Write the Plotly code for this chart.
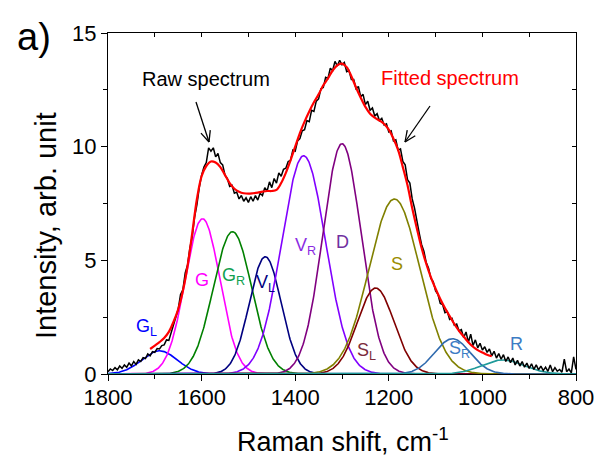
import numpy as np
import plotly.graph_objects as go

# ---- data ----
peak_names = ["G<sub>L</sub>", "G", "G<sub>R</sub>", "V<sub>L</sub>", "V<sub>R</sub>", "D",
              "S<sub>L</sub>", "S", "S<sub>R</sub>", "R"]
peak_centers = [1690, 1598, 1534, 1464, 1382, 1300, 1228, 1188, 1064, 956]   # cm-1
peak_heights = [1.02, 6.83, 6.26, 5.16, 9.6, 10.13, 3.78, 7.7, 1.55, 0.62]
peak_sigmas = [38, 37, 41, 34, 47, 41, 39, 54, 38, 45]
curve_colors = ["#0000FF", "#FF00FF", "#008000", "#000080", "#8000FF", "#800080",
                "#800000", "#808000", "#2F6AAE", "#1F9A9A"]
label_colors = ["#0000FF", "#FF00FF", "#12A050", "#000080", "#8A2BE2", "#7030A0",
                "#7B2C3B", "#9A8C00", "#3C7CC4", "#3C7CC4"]
label_x = [1718, 1600, 1531, 1463, 1377, 1300, 1248, 1183, 1048, 928]
label_y = [2.04, 4.15, 4.28, 4.0, 5.6, 5.8, 0.98, 4.85, 1.07, 1.33]

raw_shift = list(range(1800, 799, -5))
raw_intensity = [
    0.10, 0.22, 0.15, 0.28, 0.18, 0.35, 0.25, 0.40, 0.30, 0.48,
    0.36, 0.55, 0.42, 0.62, 0.55, 0.72, 0.68, 0.88, 0.80, 0.98,
    0.95, 1.12, 1.10, 1.25, 1.28, 1.50, 1.48, 1.85, 2.10, 2.55,
    2.85, 3.50, 3.70, 4.45, 4.80, 5.55, 6.05, 6.90, 7.45, 8.20,
    8.75, 9.10, 9.30, 9.95, 9.80, 9.95, 9.55, 9.70, 9.30, 9.20,
    8.75, 8.60, 8.25, 8.30, 7.95, 8.00, 7.70, 7.85, 7.60, 7.75,
    7.55, 7.80, 7.60, 7.85, 7.65, 7.95, 7.85, 8.20, 8.05, 8.45,
    8.20, 8.60, 8.40, 8.85, 8.70, 9.00, 9.05, 9.35, 9.40, 9.85,
    9.80, 10.25, 10.35, 10.70, 10.75, 11.15, 11.10, 11.60, 11.55, 12.00,
    12.10, 12.55, 12.60, 13.05, 13.00, 13.45, 13.35, 13.75, 13.55, 13.80,
    13.60, 13.70, 13.30, 13.35, 12.95, 12.95, 12.55, 12.65, 12.20, 12.30,
    11.85, 12.00, 11.60, 11.70, 11.35, 11.45, 11.15, 11.25, 10.95, 11.00,
    10.65, 10.70, 10.25, 10.30, 9.85, 9.90, 9.35, 9.20, 8.55, 8.40,
    7.70, 7.30, 6.70, 6.20, 5.70, 5.40, 4.90, 4.65, 4.20, 4.05,
    3.65, 3.50, 3.10, 3.05, 2.70, 2.75, 2.40, 2.45, 2.15, 2.20,
    1.90, 1.95, 1.60, 1.85, 1.40, 1.75, 1.25, 1.50, 1.15, 1.35,
    1.05, 1.20, 0.95, 1.10, 0.80, 1.00, 0.70, 0.90, 0.65, 0.85,
    0.55, 0.75, 0.50, 0.70, 0.40, 0.60, 0.35, 0.55, 0.30, 0.48,
    0.25, 0.45, 0.20, 0.40, 0.18, 0.35, 0.15, 0.30, 0.12, 0.40,
    0.10, 0.28, 0.12, 0.20, 0.08, 0.65, 0.10, 0.22, 0.05, 0.75,
    0.20]

fit_shift = list(range(1710, 979, -10))
fit_intensity = [
    1.10, 1.25, 1.40, 1.58, 1.85, 2.30, 2.85, 3.65, 4.75, 6.20,
    7.70, 8.70, 9.15, 9.35, 9.30, 9.10, 8.75, 8.40, 8.15, 8.02,
    7.95, 7.93, 7.95, 7.98, 8.02, 8.05, 8.05, 8.10, 8.40, 8.85,
    9.40, 10.00, 10.60, 11.10, 11.55, 11.95, 12.30, 12.70, 13.00, 13.35,
    13.58, 13.65, 13.50, 13.10, 12.60, 12.15, 11.75, 11.45, 11.28, 11.15,
    11.00, 10.75, 10.35, 9.85, 9.10, 8.30, 7.30, 6.40, 5.55, 4.85,
    4.25, 3.75, 3.30, 2.90, 2.55, 2.20, 1.90, 1.65, 1.40, 1.20,
    1.05, 0.95, 0.85, 0.78]

x_ticks = [1800, 1600, 1400, 1200, 1000, 800]
y_ticks = [0, 5, 10, 15]

# ---- figure ----
W, H = 596, 458
ML, MR, MT, MB = 108, 20, 33, 84
PW, PH = W - ML - MR, H - MT - MB

def px2paper(px, py):
    return (px - ML) / PW, (H - MB - py) / PH

xs = np.arange(1800, 799, -1.0)

fig = go.Figure()
for name, c, h, s, col in zip(peak_names, peak_centers, peak_heights, peak_sigmas, curve_colors):
    comp = h * np.exp(-0.5 * ((xs - c) / s) ** 2)
    fig.add_trace(go.Scatter(x=xs, y=comp, mode="lines", line=dict(color=col, width=1.6),
                             name=name, showlegend=False, hoverinfo="skip"))
fig.add_trace(go.Scatter(x=raw_shift, y=raw_intensity, mode="lines",
                         line=dict(color="black", width=1.5), showlegend=False))
fig.add_trace(go.Scatter(x=fit_shift, y=fit_intensity, mode="lines",
                         line=dict(color="#FF0000", width=2.2, shape="spline", smoothing=1.0),
                         showlegend=False))
# helper trace for mirrored (inside) ticks on top/right
fig.add_trace(go.Scatter(x=[None], y=[None], xaxis="x2", yaxis="y2", showlegend=False))

font = "Liberation Sans, Arial, sans-serif"
fig.update_layout(
    width=W, height=H, margin=dict(l=ML, r=MR, t=MT, b=MB, autoexpand=False),
    paper_bgcolor="white", plot_bgcolor="white",
    font=dict(family=font, color="black"),
    xaxis=dict(range=[1800, 800], tickvals=x_ticks, ticks="outside", ticklen=6, tickwidth=1.2,
               tickcolor="black", showline=True, linecolor="black", linewidth=1.3,
               showgrid=False, zeroline=False, tickfont=dict(size=22, family=font),
               automargin=False, ticklabelstandoff=-3,
               minor=dict(dtick=100, tick0=800, ticks="outside", ticklen=4, tickcolor="black")),
    yaxis=dict(range=[0, 15], tickvals=y_ticks, ticks="outside", ticklen=6, tickwidth=1.2,
               tickcolor="black", showline=True, linecolor="black", linewidth=1.3,
               showgrid=False, zeroline=False, tickfont=dict(size=22, family=font),
               automargin=False,
               minor=dict(dtick=2.5, tick0=0, ticks="outside", ticklen=4, tickcolor="black")),
    xaxis2=dict(range=[1800, 800], overlaying="x", side="top", anchor="y2", dtick=100, tick0=800,
                ticks="inside", ticklen=4, tickcolor="black", showticklabels=False,
                automargin=False,
                showline=True, linecolor="black", linewidth=1.3, showgrid=False, zeroline=False),
    yaxis2=dict(range=[0, 15], overlaying="y", side="right", anchor="x2", dtick=2.5, tick0=0,
                ticks="inside", ticklen=4, tickcolor="black", showticklabels=False,
                automargin=False,
                showline=True, linecolor="black", linewidth=1.3, showgrid=False, zeroline=False),
)

# peak labels
for name, lx, ly, lc in zip(peak_names, label_x, label_y, label_colors):
    fig.add_annotation(x=lx, y=ly, text=name, showarrow=False,
                       font=dict(size=18, color=lc, family=font))

def text_px(px, py, text, size, color="black", angle=0):
    x, y = px2paper(px, py)
    fig.add_annotation(x=x, y=y, xref="paper", yref="paper", text=text, showarrow=False,
                       xanchor="center", yanchor="middle", textangle=angle,
                       font=dict(size=size, color=color, family=font))

text_px(206, 79, "Raw spectrum", 20)
text_px(450, 78, "Fitted spectrum", 20, "#FF0000")
text_px(34, 37, "a)", 38)
text_px(343, 440, "Raman shift, cm<sup>-1</sup>", 27)
text_px(46, 226, "Intensity, arb. unit", 29, angle=-90)

# arrows with open V heads
def arrow(p0, p1):
    (x0, y0), (x1, y1) = p0, p1
    dx, dy = x1 - x0, y1 - y0
    L = (dx * dx + dy * dy) ** 0.5
    ux, uy = dx / L, dy / L
    segs = [((x0, y0), (x1, y1))]
    for ang in (0.42, -0.42):
        c, s = np.cos(ang), np.sin(ang)
        bx, by = -(ux * c - uy * s), -(ux * s + uy * c)
        segs.append(((x1, y1), (x1 + 12 * bx, y1 + 12 * by)))
    for (a, b), (c2, d) in segs:
        pa, pb = px2paper(a, b)
        pc, pd = px2paper(c2, d)
        fig.add_shape(type="line", xref="paper", yref="paper", x0=pa, y0=pb, x1=pc, y1=pd,
                      line=dict(color="black", width=1.3))

arrow((196, 102), (209, 142))
arrow((430, 106), (405, 142))

fig.write_html("out.html")
